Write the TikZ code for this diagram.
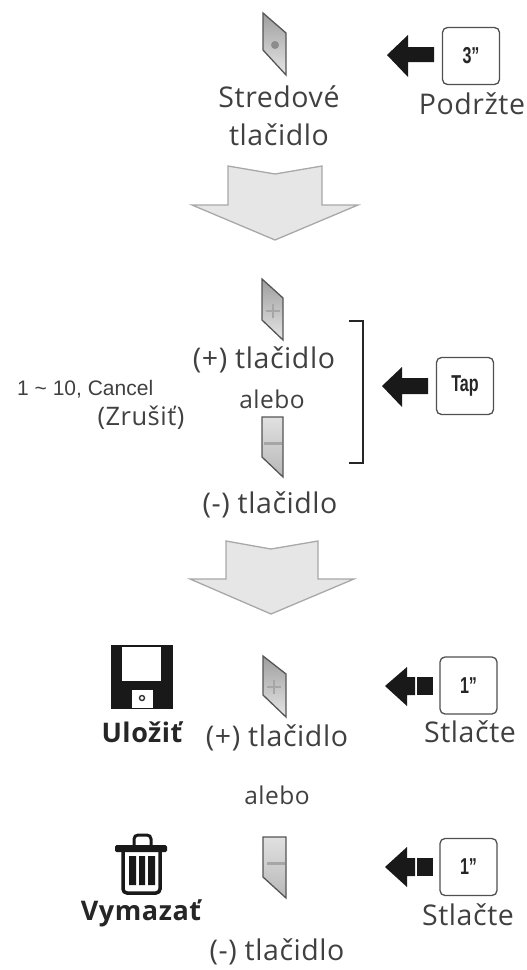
\documentclass[tikz,border=0pt]{standalone}
\usepackage{fontspec}
\setmainfont{Open Sans}
\newfontfamily\spaced[LetterSpace=2]{Open Sans}
\newfontfamily\helv{Liberation Sans}
\definecolor{txt}{HTML}{404040}
\definecolor{bigfill}{HTML}{E6E6E6}
\definecolor{bigedge}{HTML}{A8A8A8}
\definecolor{keyedge}{HTML}{505050}
\definecolor{btnedge}{HTML}{555555}
\definecolor{btnmark}{HTML}{A6A6A6}
\tikzset{
  lbl/.style={font=\spaced\fontsize{28.5}{38}\selectfont,text=txt,inner sep=0pt,align=center},
  orlbl/.style={font=\spaced\fontsize{24.5}{28}\selectfont,text=txt,inner sep=0pt},
  boldlbl/.style={font=\spaced\fontsize{27}{30}\selectfont\bfseries,text=black!85,inner sep=0pt},
  keybox/.style={draw=keyedge,line width=1.3pt,rounded corners=5pt,fill=white,minimum width=57pt,minimum height=57pt,inner sep=0pt,font=\helv\fontsize{23}{26}\selectfont\bfseries,text=black!85},
  bigarrow/.style={draw=bigedge,fill=bigfill,line width=1.3pt,line join=miter},
  blackarrow/.style={fill=black!90,draw=none},
  btnp/.style={draw=btnedge,line width=1.3pt,top color=black!38,bottom color=black!10},
  btnm/.style={draw=btnedge,line width=1.3pt,top color=black!12,bottom color=black!28},
}
\newcommand{\keytext}[1]{\scalebox{.7}[1]{#1}}
\begin{document}
\begin{tikzpicture}[x=1pt,y=-1pt]
\useasboundingbox (0,0) rectangle (527,970);
% top centre button
\draw[btnp] (263,13) -- (286,33) -- (286,75) -- (263,50) -- cycle;
\fill[btnmark,black!45] (275,45) circle (4);
\node[lbl] (t1) at (279,116) {Stredové\\tlačidlo};
\node[keybox] (k1) at (471,56) {\keytext{3”}};
\node[lbl] (p1) at (472,104) {Podržte};
\fill[blackarrow] (387,55) -- (408,35) -- (408,47) -- (434,47) -- (434,62) -- (408,62) -- (408,77) -- cycle;
% first big arrow
\draw[bigarrow] (228,166) -- (275,174) -- (322,166) -- (322,205) -- (358,205) -- (275,240) -- (192,205) -- (228,205) -- cycle;
% middle
\draw[btnp] (262,279) -- (283,298) -- (283,340) -- (262,320) -- cycle;
\draw[btnmark,line width=2pt] (266,311) -- (280,311) (273,304) -- (273,318);
\node[lbl] (plus1) at (264,360) {(+) tlačidlo};
\node[orlbl] (or1) at (272,399) {alebo};
\draw[btnm] (262,417) -- (283,417) -- (283,477) -- (262,457) -- cycle;
\draw[btnmark,line width=3pt] (264,443) -- (282,443);
\node[lbl] (minus1) at (270,505) {(-) tlačidlo};
\node[inner sep=0pt,font=\helv\fontsize{21}{24}\selectfont,text=txt,anchor=west] (r) at (17,389) {1 \textasciitilde{} 10, Cancel};
\node[orlbl,font=\spaced\fontsize{25.5}{28}\selectfont] (z) at (141,418) {(Zrušiť)};
\draw[line width=2.4pt,black!85] (349,321) -- (363,321) -- (363,463) -- (349,463);
\node[keybox] (k2) at (465,386) {\keytext{Tap}};
\fill[blackarrow] (382,386) -- (402,367) -- (402,378) -- (428,378) -- (428,394) -- (402,394) -- (402,407) -- cycle;
% second big arrow
\draw[bigarrow] (226,541) -- (271,549) -- (318,541) -- (318,579) -- (354,579) -- (271,614) -- (190,579) -- (226,579) -- cycle;
% save row
\draw[btnp] (263,656) -- (286,674) -- (286,717) -- (263,695) -- cycle;
\draw[btnmark,line width=2pt] (267,687) -- (281,687) (274,680) -- (274,694);
\node[lbl] (plus2) at (277,738) {(+) tlačidlo};
\fill[black!90] (111,645) rectangle (173,709);
\fill[white] (122,647) rectangle (161,681);
\fill[white] (132,690) rectangle (153,708);
\draw[black!80,line width=1.4pt] (142,698) circle (2.5);
\node[boldlbl] (s) at (142,732) {Uložiť};
\fill[blackarrow] (385,686) -- (407,667) -- (407,677) -- (415,677) -- (415,695) -- (407,695) -- (407,706) -- cycle;
\fill[black!90] (417,677) rectangle (433,695);
\node[keybox] (k3) at (468.5,685.5) {\keytext{1”}};
\node[lbl] (st1) at (470,732) {Stlačte};
\node[orlbl] (or2) at (277,795) {alebo};
% delete row
\draw[btnm] (263,837) -- (286,837) -- (286,898) -- (263,877) -- cycle;
\draw[btnmark,line width=3pt] (267,863) -- (285,863);
\node[lbl] (minus2) at (277,952) {(-) tlačidlo};
\node[boldlbl] (d) at (141,913) {Vymazať};
\fill[blackarrow] (385,867) -- (407,847) -- (407,858) -- (415,858) -- (415,876) -- (407,876) -- (407,887) -- cycle;
\fill[black!90] (417,858) rectangle (433,876);
\node[keybox] (k4) at (468.5,867) {\keytext{1”}};
\node[lbl] (st2) at (468,915) {Stlačte};
% trash
\fill[black!90,rounded corners=1.5pt] (115,845) rectangle (167,852);
\draw[black!90,line width=3pt,rounded corners=4pt] (134,846) -- (134,835) -- (151,835) -- (151,846);
\draw[black!90,line width=3.5pt,rounded corners=4pt] (123,851) -- (123,893) -- (160,893) -- (160,851);
\fill[black!90] (129,856) rectangle (136,885) (139,856) rectangle (145,885) (148,856) rectangle (155,885);
\end{tikzpicture}
\end{document}
